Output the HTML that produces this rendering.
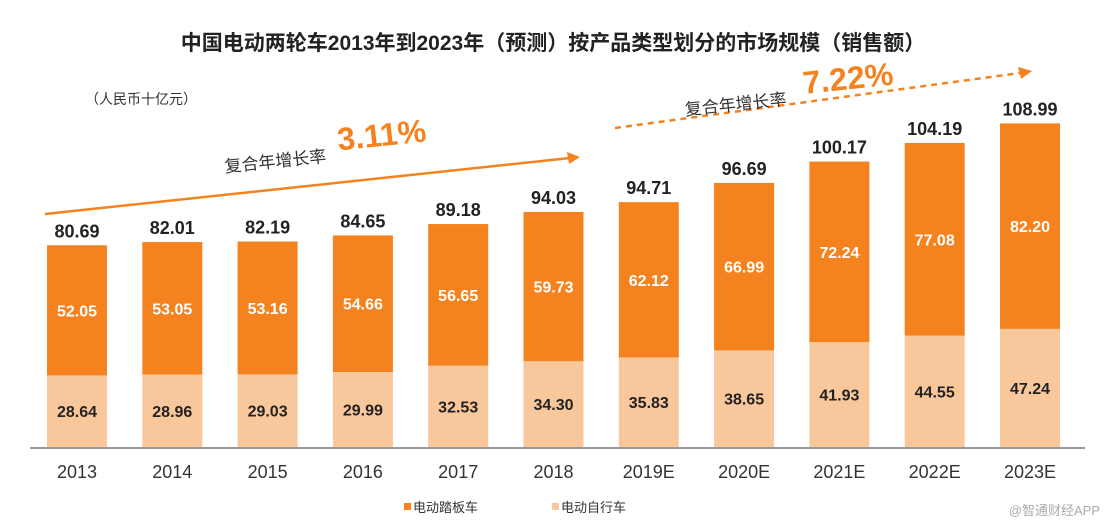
<!DOCTYPE html>
<html><head><meta charset="utf-8"><style>
body{margin:0;background:#fff;width:1107px;height:526px;overflow:hidden;font-family:"Liberation Sans","Noto Sans CJK SC",sans-serif}
</style></head><body>
<svg width="1107" height="526" viewBox="0 0 1107 526">
<text x="553" y="50" text-anchor="middle" font-size="21" font-weight="bold" fill="#222">中国电动两轮车2013年到2023年（预测）按产品类型划分的市场规模（销售额）</text>
<text x="85" y="104" font-size="14" fill="#333">（人民币十亿元）</text>
<g id="bars"></g>
<line x1="30" y1="448" x2="1085" y2="448" stroke="#999" stroke-width="2"/>
<g>
<line x1="45" y1="214" x2="570" y2="158" stroke="#f4831f" stroke-width="2.5"/>
<polygon points="580,157 567,152 569,164" fill="#f4831f"/>
<g transform="rotate(-6 230 170)"><text x="225" y="172" font-size="17" fill="#333">复合年增长率</text>
<text x="340" y="162" font-size="32" font-weight="bold" fill="#f4831f">3.11%</text></g>
</g>
<g>
<line x1="615" y1="128" x2="1020" y2="73" stroke="#f4831f" stroke-width="2.5" stroke-dasharray="6,5"/>
<polygon points="1032,71 1018,67 1021,79" fill="#f4831f"/>
<g transform="rotate(-6 690 110)"><text x="685" y="115" font-size="17" fill="#333">复合年增长率</text>
<text x="805" y="106" font-size="32" font-weight="bold" fill="#f4831f">7.22%</text></g>
</g>
<g>
<rect x="404" y="503" width="7" height="7" fill="#f4831f"/>
<text x="413" y="512" font-size="13" fill="#333">电动踏板车</text>
<rect x="552" y="503" width="7" height="7" fill="#f9c79c"/>
<text x="561" y="512" font-size="13" fill="#333">电动自行车</text>
</g>
<text x="1100" y="515" text-anchor="end" font-size="13" fill="#aaa">@智通财经APP</text>
</svg>
<script>
const categories=["2013","2014","2015","2016","2017","2018","2019E","2020E","2021E","2022E","2023E"];
const bicycle=[28.64,28.96,29.03,29.99,32.53,34.30,35.83,38.65,41.93,44.55,47.24];
const scooter=[52.05,53.05,53.16,54.66,56.65,59.73,62.12,66.99,72.24,77.08,82.20];
const totals=[80.69,82.01,82.19,84.65,89.18,94.03,94.71,96.69,100.17,104.19,108.99];
const baseY=447, k=2.5, x0=77, step=95.3, bw=60;
const xs=i=>x0+i*step;
const ys=v=>v*k;
const ns="http://www.w3.org/2000/svg";
const g=document.getElementById('bars');
function mk(tag,attrs){const e=document.createElementNS(ns,tag);for(const a in attrs)e.setAttribute(a,attrs[a]);g.appendChild(e);return e;}
categories.forEach((c,i)=>{
  const cx=xs(i), hb=ys(bicycle[i]), hs=ys(scooter[i]);
  const r1=mk('rect',{x:cx-bw/2,y:baseY-hb,width:bw,height:hb,fill:'#f9c79c'});
  
  
  const r2=mk('rect',{x:cx-bw/2,y:baseY-hb-hs,width:bw,height:hs,fill:'#f4831f'});
  
  
  const t1=mk('text',{x:cx,y:baseY-hb/2+6,'text-anchor':'middle','font-size':16,'font-weight':'bold',fill:'#222'});
  t1.textContent=bicycle[i].toFixed(2);
  
  
  const t2=mk('text',{x:cx,y:baseY-hb-hs/2+6,'text-anchor':'middle','font-size':16,'font-weight':'bold',fill:'#fff'});
  t2.textContent=scooter[i].toFixed(2);
  
  
  const t3=mk('text',{x:cx,y:baseY-hb-hs-8,'text-anchor':'middle','font-size':18,'font-weight':'bold',fill:'#222'});
  t3.textContent=totals[i].toFixed(2);
  
  
  const t4=mk('text',{x:cx,y:478,'text-anchor':'middle','font-size':18,fill:'#333'});
  t4.textContent=c;
  
  
});
</script>
</body></html>
